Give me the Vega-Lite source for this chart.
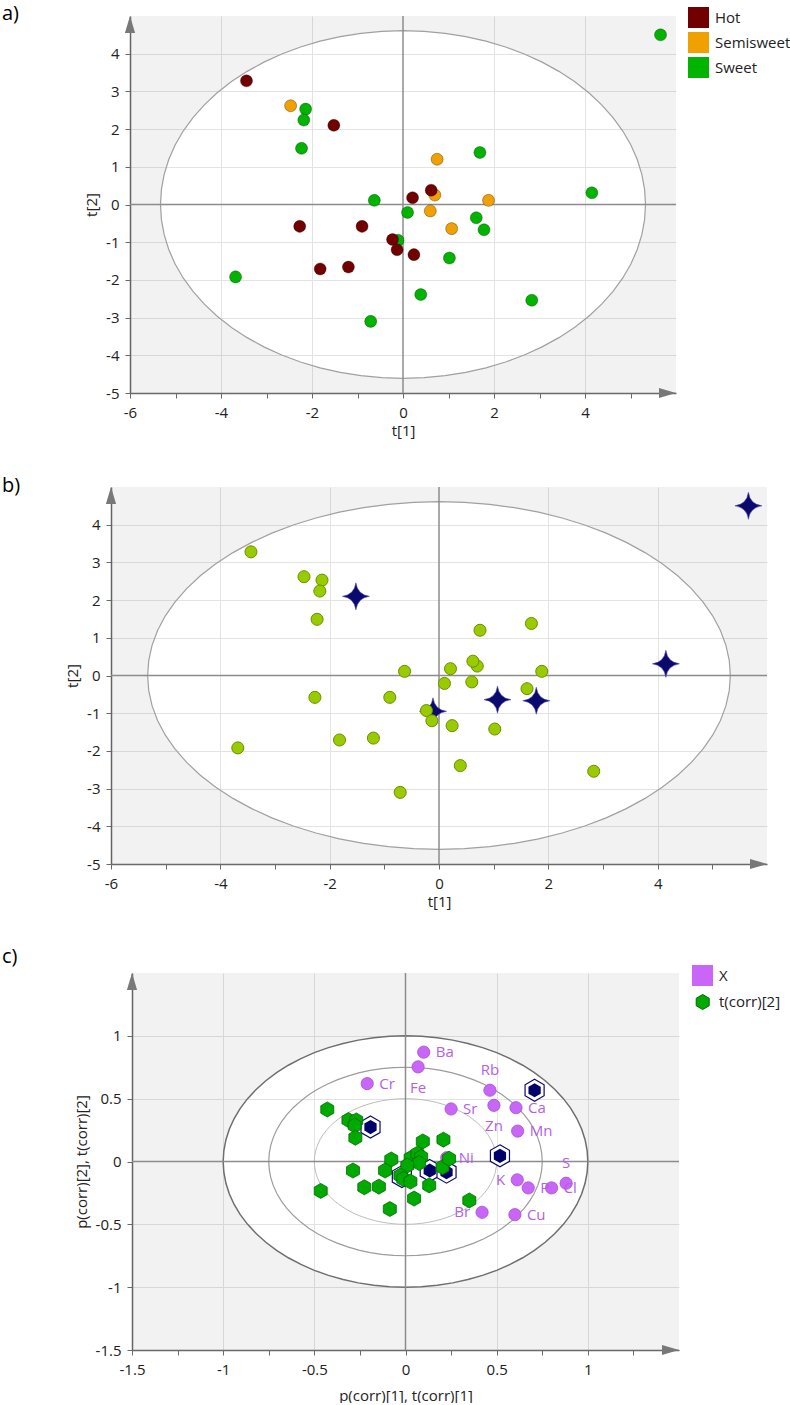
{
  "$schema": "https://vega.github.io/schema/vega-lite/v6.json",
  "padding": {"left": 1, "top": 4, "right": 0, "bottom": 0},
  "spacing": 37,
  "resolve": {"scale": {"color": "independent", "fill": "independent"}, "legend": {"color": "independent", "fill": "independent"}},
  "config": {
    "view": {"stroke": null},
    "font": "Open Sans",
    "axis": {
      "domainColor": "#6a6a6a", "domainWidth": 1.5,
      "tickColor": "#6a6a6a", "tickSize": 5, "tickWidth": 1,
      "labelFont": "Open Sans", "labelFontSize": 15, "labelColor": "#222222",
      "labelOverlap": false, "labelFlush": false, "labelBound": false,
      "titleFont": "Open Sans", "titleFontSize": 15, "titleFontWeight": "normal", "titleColor": "#222222",
      "gridColor": "#e3e3e3", "gridWidth": 1
    },
    "axisX": {"titlePadding": 3, "labelPadding": 7},
    "axisY": {"titlePadding": 6, "labelPadding": 6}
  },
  "datasets": {
    "obs": [
      {"t1":-2.14,"t2":2.53,"type":"Sweet","outlier":"no"},
      {"t1":-2.18,"t2":2.24,"type":"Sweet","outlier":"no"},
      {"t1":-2.23,"t2":1.49,"type":"Sweet","outlier":"no"},
      {"t1":-0.63,"t2":0.11,"type":"Sweet","outlier":"no"},
      {"t1":-0.11,"t2":-0.95,"type":"Sweet","outlier":"yes"},
      {"t1":-3.68,"t2":-1.92,"type":"Sweet","outlier":"no"},
      {"t1":-0.71,"t2":-3.1,"type":"Sweet","outlier":"no"},
      {"t1":5.66,"t2":4.5,"type":"Sweet","outlier":"yes"},
      {"t1":1.69,"t2":1.38,"type":"Sweet","outlier":"no"},
      {"t1":4.15,"t2":0.31,"type":"Sweet","outlier":"yes"},
      {"t1":0.1,"t2":-0.21,"type":"Sweet","outlier":"no"},
      {"t1":1.61,"t2":-0.35,"type":"Sweet","outlier":"no"},
      {"t1":1.78,"t2":-0.67,"type":"Sweet","outlier":"yes"},
      {"t1":1.02,"t2":-1.42,"type":"Sweet","outlier":"no"},
      {"t1":0.39,"t2":-2.39,"type":"Sweet","outlier":"no"},
      {"t1":2.83,"t2":-2.54,"type":"Sweet","outlier":"no"},
      {"t1":-2.47,"t2":2.62,"type":"Semisweet","outlier":"no"},
      {"t1":0.75,"t2":1.2,"type":"Semisweet","outlier":"no"},
      {"t1":0.7,"t2":0.25,"type":"Semisweet","outlier":"no"},
      {"t1":1.88,"t2":0.11,"type":"Semisweet","outlier":"no"},
      {"t1":0.6,"t2":-0.17,"type":"Semisweet","outlier":"no"},
      {"t1":1.07,"t2":-0.64,"type":"Semisweet","outlier":"yes"},
      {"t1":-3.44,"t2":3.28,"type":"Hot","outlier":"no"},
      {"t1":-1.52,"t2":2.1,"type":"Hot","outlier":"yes"},
      {"t1":-2.27,"t2":-0.58,"type":"Hot","outlier":"no"},
      {"t1":-0.9,"t2":-0.58,"type":"Hot","outlier":"no"},
      {"t1":-0.23,"t2":-0.93,"type":"Hot","outlier":"no"},
      {"t1":-0.13,"t2":-1.2,"type":"Hot","outlier":"no"},
      {"t1":-1.82,"t2":-1.71,"type":"Hot","outlier":"no"},
      {"t1":-1.2,"t2":-1.66,"type":"Hot","outlier":"no"},
      {"t1":0.62,"t2":0.38,"type":"Hot","outlier":"no"},
      {"t1":0.21,"t2":0.18,"type":"Hot","outlier":"no"},
      {"t1":0.24,"t2":-1.33,"type":"Hot","outlier":"no"}
    ],
    "ellAB": [
      {"x":-6,"yu":0,"yl":0},
      {"x":-5.33,"yu":0,"yl":0},
      {"x":-5.3097,"yu":0.4018,"yl":-0.4018},
      {"x":-5.249,"yu":0.8005,"yl":-0.8005},
      {"x":-5.1484,"yu":1.1932,"yl":-1.1932},
      {"x":-5.0086,"yu":1.5767,"yl":-1.5767},
      {"x":-4.8306,"yu":1.9483,"yl":-1.9483},
      {"x":-4.6159,"yu":2.305,"yl":-2.305},
      {"x":-4.3661,"yu":2.6442,"yl":-2.6442},
      {"x":-4.083,"yu":2.9633,"yl":-2.9633},
      {"x":-3.7689,"yu":3.2598,"yl":-3.2598},
      {"x":-3.4261,"yu":3.5314,"yl":-3.5314},
      {"x":-3.0572,"yu":3.7763,"yl":-3.7763},
      {"x":-2.665,"yu":3.9924,"yl":-3.9924},
      {"x":-2.2526,"yu":4.1781,"yl":-4.1781},
      {"x":-1.823,"yu":4.332,"yl":-4.332},
      {"x":-1.3795,"yu":4.4529,"yl":-4.4529},
      {"x":-0.9256,"yu":4.54,"yl":-4.54},
      {"x":-0.4646,"yu":4.5924,"yl":-4.5924},
      {"x":0,"yu":4.61,"yl":-4.61},
      {"x":0.4646,"yu":4.5924,"yl":-4.5924},
      {"x":0.9256,"yu":4.54,"yl":-4.54},
      {"x":1.3795,"yu":4.4529,"yl":-4.4529},
      {"x":1.823,"yu":4.332,"yl":-4.332},
      {"x":2.2526,"yu":4.1781,"yl":-4.1781},
      {"x":2.665,"yu":3.9924,"yl":-3.9924},
      {"x":3.0572,"yu":3.7763,"yl":-3.7763},
      {"x":3.4261,"yu":3.5314,"yl":-3.5314},
      {"x":3.7689,"yu":3.2598,"yl":-3.2598},
      {"x":4.083,"yu":2.9633,"yl":-2.9633},
      {"x":4.3661,"yu":2.6442,"yl":-2.6442},
      {"x":4.6159,"yu":2.305,"yl":-2.305},
      {"x":4.8306,"yu":1.9483,"yl":-1.9483},
      {"x":5.0086,"yu":1.5767,"yl":-1.5767},
      {"x":5.1484,"yu":1.1932,"yl":-1.1932},
      {"x":5.249,"yu":0.8005,"yl":-0.8005},
      {"x":5.3097,"yu":0.4018,"yl":-0.4018},
      {"x":5.33,"yu":0,"yl":0},
      {"x":6,"yu":0,"yl":0}
    ],
    "rings": [
      {"r":1,"x":-1.5,"yu":0,"yl":0},
      {"r":1,"x":-1,"yu":0,"yl":0},
      {"r":1,"x":-0.99619,"yu":0.08716,"yl":-0.08716},
      {"r":1,"x":-0.98481,"yu":0.17365,"yl":-0.17365},
      {"r":1,"x":-0.96593,"yu":0.25882,"yl":-0.25882},
      {"r":1,"x":-0.93969,"yu":0.34202,"yl":-0.34202},
      {"r":1,"x":-0.90631,"yu":0.42262,"yl":-0.42262},
      {"r":1,"x":-0.86603,"yu":0.5,"yl":-0.5},
      {"r":1,"x":-0.81915,"yu":0.57358,"yl":-0.57358},
      {"r":1,"x":-0.76604,"yu":0.64279,"yl":-0.64279},
      {"r":1,"x":-0.70711,"yu":0.70711,"yl":-0.70711},
      {"r":1,"x":-0.64279,"yu":0.76604,"yl":-0.76604},
      {"r":1,"x":-0.57358,"yu":0.81915,"yl":-0.81915},
      {"r":1,"x":-0.5,"yu":0.86603,"yl":-0.86603},
      {"r":1,"x":-0.42262,"yu":0.90631,"yl":-0.90631},
      {"r":1,"x":-0.34202,"yu":0.93969,"yl":-0.93969},
      {"r":1,"x":-0.25882,"yu":0.96593,"yl":-0.96593},
      {"r":1,"x":-0.17365,"yu":0.98481,"yl":-0.98481},
      {"r":1,"x":-0.08716,"yu":0.99619,"yl":-0.99619},
      {"r":1,"x":0,"yu":1,"yl":-1},
      {"r":1,"x":0.08716,"yu":0.99619,"yl":-0.99619},
      {"r":1,"x":0.17365,"yu":0.98481,"yl":-0.98481},
      {"r":1,"x":0.25882,"yu":0.96593,"yl":-0.96593},
      {"r":1,"x":0.34202,"yu":0.93969,"yl":-0.93969},
      {"r":1,"x":0.42262,"yu":0.90631,"yl":-0.90631},
      {"r":1,"x":0.5,"yu":0.86603,"yl":-0.86603},
      {"r":1,"x":0.57358,"yu":0.81915,"yl":-0.81915},
      {"r":1,"x":0.64279,"yu":0.76604,"yl":-0.76604},
      {"r":1,"x":0.70711,"yu":0.70711,"yl":-0.70711},
      {"r":1,"x":0.76604,"yu":0.64279,"yl":-0.64279},
      {"r":1,"x":0.81915,"yu":0.57358,"yl":-0.57358},
      {"r":1,"x":0.86603,"yu":0.5,"yl":-0.5},
      {"r":1,"x":0.90631,"yu":0.42262,"yl":-0.42262},
      {"r":1,"x":0.93969,"yu":0.34202,"yl":-0.34202},
      {"r":1,"x":0.96593,"yu":0.25882,"yl":-0.25882},
      {"r":1,"x":0.98481,"yu":0.17365,"yl":-0.17365},
      {"r":1,"x":0.99619,"yu":0.08716,"yl":-0.08716},
      {"r":1,"x":1,"yu":0,"yl":0},
      {"r":1,"x":1.5,"yu":0,"yl":0},
      {"r":0.75,"x":-0.75,"yu":0,"yl":0},
      {"r":0.75,"x":-0.74714,"yu":0.06537,"yl":-0.06537},
      {"r":0.75,"x":-0.73861,"yu":0.13024,"yl":-0.13024},
      {"r":0.75,"x":-0.72445,"yu":0.19412,"yl":-0.19412},
      {"r":0.75,"x":-0.70477,"yu":0.25652,"yl":-0.25652},
      {"r":0.75,"x":-0.67973,"yu":0.31697,"yl":-0.31697},
      {"r":0.75,"x":-0.64952,"yu":0.375,"yl":-0.375},
      {"r":0.75,"x":-0.61436,"yu":0.43019,"yl":-0.43019},
      {"r":0.75,"x":-0.57453,"yu":0.48209,"yl":-0.48209},
      {"r":0.75,"x":-0.53033,"yu":0.53033,"yl":-0.53033},
      {"r":0.75,"x":-0.48209,"yu":0.57453,"yl":-0.57453},
      {"r":0.75,"x":-0.43019,"yu":0.61436,"yl":-0.61436},
      {"r":0.75,"x":-0.375,"yu":0.64952,"yl":-0.64952},
      {"r":0.75,"x":-0.31697,"yu":0.67973,"yl":-0.67973},
      {"r":0.75,"x":-0.25652,"yu":0.70477,"yl":-0.70477},
      {"r":0.75,"x":-0.19412,"yu":0.72445,"yl":-0.72445},
      {"r":0.75,"x":-0.13024,"yu":0.73861,"yl":-0.73861},
      {"r":0.75,"x":-0.06537,"yu":0.74714,"yl":-0.74714},
      {"r":0.75,"x":0,"yu":0.75,"yl":-0.75},
      {"r":0.75,"x":0.06537,"yu":0.74714,"yl":-0.74714},
      {"r":0.75,"x":0.13024,"yu":0.73861,"yl":-0.73861},
      {"r":0.75,"x":0.19412,"yu":0.72445,"yl":-0.72445},
      {"r":0.75,"x":0.25652,"yu":0.70477,"yl":-0.70477},
      {"r":0.75,"x":0.31697,"yu":0.67973,"yl":-0.67973},
      {"r":0.75,"x":0.375,"yu":0.64952,"yl":-0.64952},
      {"r":0.75,"x":0.43019,"yu":0.61436,"yl":-0.61436},
      {"r":0.75,"x":0.48209,"yu":0.57453,"yl":-0.57453},
      {"r":0.75,"x":0.53033,"yu":0.53033,"yl":-0.53033},
      {"r":0.75,"x":0.57453,"yu":0.48209,"yl":-0.48209},
      {"r":0.75,"x":0.61436,"yu":0.43019,"yl":-0.43019},
      {"r":0.75,"x":0.64952,"yu":0.375,"yl":-0.375},
      {"r":0.75,"x":0.67973,"yu":0.31697,"yl":-0.31697},
      {"r":0.75,"x":0.70477,"yu":0.25652,"yl":-0.25652},
      {"r":0.75,"x":0.72445,"yu":0.19412,"yl":-0.19412},
      {"r":0.75,"x":0.73861,"yu":0.13024,"yl":-0.13024},
      {"r":0.75,"x":0.74714,"yu":0.06537,"yl":-0.06537},
      {"r":0.75,"x":0.75,"yu":0,"yl":0},
      {"r":0.5,"x":-0.5,"yu":0,"yl":0},
      {"r":0.5,"x":-0.4981,"yu":0.04358,"yl":-0.04358},
      {"r":0.5,"x":-0.4924,"yu":0.08682,"yl":-0.08682},
      {"r":0.5,"x":-0.48296,"yu":0.12941,"yl":-0.12941},
      {"r":0.5,"x":-0.46985,"yu":0.17101,"yl":-0.17101},
      {"r":0.5,"x":-0.45315,"yu":0.21131,"yl":-0.21131},
      {"r":0.5,"x":-0.43301,"yu":0.25,"yl":-0.25},
      {"r":0.5,"x":-0.40957,"yu":0.28679,"yl":-0.28679},
      {"r":0.5,"x":-0.38302,"yu":0.32139,"yl":-0.32139},
      {"r":0.5,"x":-0.35355,"yu":0.35355,"yl":-0.35355},
      {"r":0.5,"x":-0.32139,"yu":0.38302,"yl":-0.38302},
      {"r":0.5,"x":-0.28679,"yu":0.40957,"yl":-0.40957},
      {"r":0.5,"x":-0.25,"yu":0.43301,"yl":-0.43301},
      {"r":0.5,"x":-0.21131,"yu":0.45315,"yl":-0.45315},
      {"r":0.5,"x":-0.17101,"yu":0.46985,"yl":-0.46985},
      {"r":0.5,"x":-0.12941,"yu":0.48296,"yl":-0.48296},
      {"r":0.5,"x":-0.08682,"yu":0.4924,"yl":-0.4924},
      {"r":0.5,"x":-0.04358,"yu":0.4981,"yl":-0.4981},
      {"r":0.5,"x":0,"yu":0.5,"yl":-0.5},
      {"r":0.5,"x":0.04358,"yu":0.4981,"yl":-0.4981},
      {"r":0.5,"x":0.08682,"yu":0.4924,"yl":-0.4924},
      {"r":0.5,"x":0.12941,"yu":0.48296,"yl":-0.48296},
      {"r":0.5,"x":0.17101,"yu":0.46985,"yl":-0.46985},
      {"r":0.5,"x":0.21131,"yu":0.45315,"yl":-0.45315},
      {"r":0.5,"x":0.25,"yu":0.43301,"yl":-0.43301},
      {"r":0.5,"x":0.28679,"yu":0.40957,"yl":-0.40957},
      {"r":0.5,"x":0.32139,"yu":0.38302,"yl":-0.38302},
      {"r":0.5,"x":0.35355,"yu":0.35355,"yl":-0.35355},
      {"r":0.5,"x":0.38302,"yu":0.32139,"yl":-0.32139},
      {"r":0.5,"x":0.40957,"yu":0.28679,"yl":-0.28679},
      {"r":0.5,"x":0.43301,"yu":0.25,"yl":-0.25},
      {"r":0.5,"x":0.45315,"yu":0.21131,"yl":-0.21131},
      {"r":0.5,"x":0.46985,"yu":0.17101,"yl":-0.17101},
      {"r":0.5,"x":0.48296,"yu":0.12941,"yl":-0.12941},
      {"r":0.5,"x":0.4924,"yu":0.08682,"yl":-0.08682},
      {"r":0.5,"x":0.4981,"yu":0.04358,"yl":-0.04358},
      {"r":0.5,"x":0.5,"yu":0,"yl":0}
    ],
    "vars": [
      {"name":"Ba","p1":0.1,"p2":0.87},
      {"name":"Fe","p1":0.069,"p2":0.753},
      {"name":"Rb","p1":0.463,"p2":0.567},
      {"name":"Zn","p1":0.485,"p2":0.447},
      {"name":"Ca","p1":0.606,"p2":0.428},
      {"name":"Sr","p1":0.25,"p2":0.418},
      {"name":"Mn","p1":0.615,"p2":0.242},
      {"name":"Ni","p1":0.226,"p2":0.03},
      {"name":"K","p1":0.613,"p2":-0.146},
      {"name":"P","p1":0.673,"p2":-0.21},
      {"name":"Cl","p1":0.801,"p2":-0.21},
      {"name":"S","p1":0.881,"p2":-0.173},
      {"name":"Cu","p1":0.6,"p2":-0.423},
      {"name":"Br","p1":0.42,"p2":-0.404},
      {"name":"Cr","p1":-0.21,"p2":0.62}
    ],
    "tcorr": [
      {"t1":-0.192,"t2":0.274,"outlier":"yes"},
      {"t1":-0.02,"t2":-0.12,"outlier":"yes"},
      {"t1":0.133,"t2":-0.072,"outlier":"yes"},
      {"t1":0.225,"t2":-0.085,"outlier":"yes"},
      {"t1":0.518,"t2":0.045,"outlier":"yes"},
      {"t1":0.708,"t2":0.567,"outlier":"yes"},
      {"t1":-0.429,"t2":0.414,"outlier":"no"},
      {"t1":-0.313,"t2":0.33,"outlier":"no"},
      {"t1":-0.27,"t2":0.327,"outlier":"no"},
      {"t1":-0.279,"t2":0.287,"outlier":"no"},
      {"t1":-0.275,"t2":0.189,"outlier":"no"},
      {"t1":0.095,"t2":0.16,"outlier":"no"},
      {"t1":0.208,"t2":0.174,"outlier":"no"},
      {"t1":-0.078,"t2":0.016,"outlier":"no"},
      {"t1":-0.288,"t2":-0.072,"outlier":"no"},
      {"t1":-0.112,"t2":-0.072,"outlier":"no"},
      {"t1":0.028,"t2":0.027,"outlier":"no"},
      {"t1":0.065,"t2":0.062,"outlier":"no"},
      {"t1":0.086,"t2":0.036,"outlier":"no"},
      {"t1":0.075,"t2":-0.012,"outlier":"no"},
      {"t1":0.01,"t2":-0.032,"outlier":"no"},
      {"t1":-0.028,"t2":-0.112,"outlier":"no"},
      {"t1":-0.012,"t2":-0.14,"outlier":"no"},
      {"t1":0.027,"t2":-0.16,"outlier":"no"},
      {"t1":0.203,"t2":-0.045,"outlier":"no"},
      {"t1":0.239,"t2":0.022,"outlier":"no"},
      {"t1":0.13,"t2":-0.19,"outlier":"no"},
      {"t1":-0.226,"t2":-0.205,"outlier":"no"},
      {"t1":-0.146,"t2":-0.2,"outlier":"no"},
      {"t1":-0.465,"t2":-0.234,"outlier":"no"},
      {"t1":0.047,"t2":-0.295,"outlier":"no"},
      {"t1":-0.086,"t2":-0.378,"outlier":"no"},
      {"t1":0.35,"t2":-0.31,"outlier":"no"}
    ]
  },
  "vconcat": [
    {
      "spacing": 0,
      "hconcat": [
        {"width": 1, "height": 1, "data": {"values": [{}]}, "mark": {"type": "point", "size": 0, "opacity": 0}},
        {
          "width": 546, "height": 377,
          "title": {"text": "a)", "anchor": "start", "frame": "group", "dx": -128, "dy": 19, "offset": 0, "baseline": "middle", "fontSize": 20, "fontWeight": "normal", "font": "Open Sans", "color": "#000000"},
          "layer": [
            {"data": {"name": "ellAB"}, "mark": {"type": "area", "color": "#000000", "fillOpacity": 0.05},
             "encoding": {
               "x": {"field": "x", "type": "quantitative", "scale": {"domain": [-6, 6], "nice": false, "zero": false},
                     "axis": {"title": "t[1]", "values": [-6,-5,-4,-3,-2,-1,0,1,2,3,4,5],
                              "labelExpr": "datum.value % 2 === 0 ? '' + datum.value : ''",
                              "gridOpacity": {"condition": {"test": "datum.value % 2 !== 0 || datum.value === 0 || datum.value === -6", "value": 0}, "value": 1}}},
               "y": {"field": "yu", "type": "quantitative", "stack": null, "scale": {"domain": [-5, 5], "nice": false, "zero": false},
                     "axis": {"title": "t[2]", "values": [-5,-4.5,-4,-3.5,-3,-2.5,-2,-1.5,-1,-0.5,0,0.5,1,1.5,2,2.5,3,3.5,4,4.5],
                              "labelExpr": "datum.value % 1 === 0 ? '' + datum.value : ''",
                              "gridOpacity": {"condition": {"test": "datum.value % 1 !== 0 || datum.value === 0 || datum.value === -5", "value": 0}, "value": 1}}},
               "y2": {"datum": 5}}},
            {"data": {"name": "ellAB"}, "mark": {"type": "area", "color": "#000000", "fillOpacity": 0.05},
             "encoding": {"x": {"field": "x", "type": "quantitative"}, "y": {"field": "yl", "type": "quantitative", "stack": null}, "y2": {"datum": -5}}},
            {"data": {"name": "ellAB"}, "transform": [{"filter": "abs(datum.x) < 5.5"}],
             "mark": {"type": "area", "fillOpacity": 0, "stroke": "#a0a0a0", "strokeWidth": 1.2},
             "encoding": {"x": {"field": "x", "type": "quantitative"}, "y": {"field": "yu", "type": "quantitative", "stack": null}, "y2": {"field": "yl"}}},
            {"data": {"values": [{}]}, "mark": {"type": "rule", "color": "#8c8c8c", "strokeWidth": 1.5}, "encoding": {"x": {"datum": 0}}},
            {"data": {"values": [{}]}, "mark": {"type": "rule", "color": "#8c8c8c", "strokeWidth": 1.5}, "encoding": {"y": {"datum": 0}}},
            {"data": {"values": [{}]}, "mark": {"type": "point", "shape": "M-0.6,1L0,-1L0.6,1Z", "size": 289, "filled": true, "color": "#787878", "opacity": 1}, "encoding": {"x": {"datum": -6}, "y": {"datum": 4.775}}},
            {"data": {"values": [{}]}, "mark": {"type": "point", "shape": "M-1,-0.6L1,0L-1,0.6Z", "size": 289, "filled": true, "color": "#787878", "opacity": 1}, "encoding": {"x": {"datum": 5.813}, "y": {"datum": -5}}},
            {"data": {"name": "obs"},
             "mark": {"type": "circle", "size": 145, "opacity": 1, "stroke": "#000000", "strokeOpacity": 0.3, "strokeWidth": 1},
             "encoding": {
               "x": {"field": "t1", "type": "quantitative"},
               "y": {"field": "t2", "type": "quantitative"},
               "color": {"field": "type", "type": "nominal",
                         "scale": {"domain": ["Hot", "Semisweet", "Sweet"], "range": ["#720000", "#f0a000", "#00b400"]},
                         "legend": {"title": null, "orient": "none", "legendX": 687, "legendY": -9, "symbolType": "square", "symbolSize": 441, "symbolStrokeWidth": 0, "symbolOpacity": 1,
                                    "labelFontSize": 15, "labelFont": "Open Sans", "labelColor": "#222222", "labelOffset": 6, "rowPadding": 4, "padding": 0}}}}
          ]
        }
      ]
    },
    {
      "spacing": 0,
      "hconcat": [
        {"width": 1, "height": 1, "data": {"values": [{}]}, "mark": {"type": "point", "size": 0, "opacity": 0}},
        {
          "width": 656, "height": 377,
          "title": {"text": "b)", "anchor": "start", "frame": "group", "dx": -109, "dy": 19.5, "offset": 0, "baseline": "middle", "fontSize": 20, "fontWeight": "normal", "font": "Open Sans", "color": "#000000"},
          "layer": [
            {"data": {"name": "ellAB"}, "mark": {"type": "area", "color": "#000000", "fillOpacity": 0.05},
             "encoding": {
               "x": {"field": "x", "type": "quantitative", "scale": {"domain": [-6, 6], "nice": false, "zero": false},
                     "axis": {"title": "t[1]", "values": [-6,-5,-4,-3,-2,-1,0,1,2,3,4,5],
                              "labelExpr": "datum.value % 2 === 0 ? '' + datum.value : ''",
                              "gridOpacity": {"condition": {"test": "datum.value % 2 !== 0 || datum.value === 0 || datum.value === -6", "value": 0}, "value": 1}}},
               "y": {"field": "yu", "type": "quantitative", "stack": null, "scale": {"domain": [-5, 5], "nice": false, "zero": false},
                     "axis": {"title": "t[2]", "values": [-5,-4.5,-4,-3.5,-3,-2.5,-2,-1.5,-1,-0.5,0,0.5,1,1.5,2,2.5,3,3.5,4,4.5],
                              "labelExpr": "datum.value % 1 === 0 ? '' + datum.value : ''",
                              "gridOpacity": {"condition": {"test": "datum.value % 1 !== 0 || datum.value === 0 || datum.value === -5", "value": 0}, "value": 1}}},
               "y2": {"datum": 5}}},
            {"data": {"name": "ellAB"}, "mark": {"type": "area", "color": "#000000", "fillOpacity": 0.05},
             "encoding": {"x": {"field": "x", "type": "quantitative"}, "y": {"field": "yl", "type": "quantitative", "stack": null}, "y2": {"datum": -5}}},
            {"data": {"name": "ellAB"}, "transform": [{"filter": "abs(datum.x) < 5.5"}],
             "mark": {"type": "area", "fillOpacity": 0, "stroke": "#a0a0a0", "strokeWidth": 1.2},
             "encoding": {"x": {"field": "x", "type": "quantitative"}, "y": {"field": "yu", "type": "quantitative", "stack": null}, "y2": {"field": "yl"}}},
            {"data": {"values": [{}]}, "mark": {"type": "rule", "color": "#8c8c8c", "strokeWidth": 1.5}, "encoding": {"x": {"datum": 0}}},
            {"data": {"values": [{}]}, "mark": {"type": "rule", "color": "#8c8c8c", "strokeWidth": 1.5}, "encoding": {"y": {"datum": 0}}},
            {"data": {"values": [{}]}, "mark": {"type": "point", "shape": "M-0.6,1L0,-1L0.6,1Z", "size": 289, "filled": true, "color": "#787878", "opacity": 1}, "encoding": {"x": {"datum": -6}, "y": {"datum": 4.775}}},
            {"data": {"values": [{}]}, "mark": {"type": "point", "shape": "M-1,-0.6L1,0L-1,0.6Z", "size": 289, "filled": true, "color": "#787878", "opacity": 1}, "encoding": {"x": {"datum": 5.845}, "y": {"datum": -5}}},
            {"data": {"name": "obs"}, "transform": [{"filter": {"field": "outlier", "equal": "yes"}}],
             "mark": {"type": "point", "shape": "M0,-1Q0.12,-0.12,1,0Q0.12,0.12,0,1Q-0.12,0.12,-1,0Q-0.12,-0.12,0,-1Z", "size": 729, "filled": true, "fill": "#0a0a6e", "stroke": "#4a4aa8", "strokeWidth": 0.6, "opacity": 1},
             "encoding": {"x": {"field": "t1", "type": "quantitative"}, "y": {"field": "t2", "type": "quantitative"}}},
            {"data": {"name": "obs"}, "transform": [{"filter": {"not": {"field": "outlier", "equal": "yes"}}}],
             "mark": {"type": "circle", "size": 145, "opacity": 1, "fill": "#99cc00", "stroke": "#6a8f00", "strokeWidth": 1},
             "encoding": {"x": {"field": "t1", "type": "quantitative"}, "y": {"field": "t2", "type": "quantitative"}}}
          ]
        }
      ]
    },
    {
      "spacing": 0,
      "hconcat": [
        {"width": 1, "height": 1, "data": {"values": [{}]}, "mark": {"type": "point", "size": 0, "opacity": 0}},
        {
          "width": 547, "height": 377,
          "title": {"text": "c)", "anchor": "start", "frame": "group", "dx": -130, "dy": 4.7, "offset": 0, "baseline": "middle", "fontSize": 20, "fontWeight": "normal", "font": "Open Sans", "color": "#000000"},
          "layer": [
            {"data": {"name": "rings"}, "transform": [{"filter": {"field": "r", "equal": 1}}],
             "mark": {"type": "area", "color": "#000000", "fillOpacity": 0.05},
             "encoding": {
               "x": {"field": "x", "type": "quantitative", "scale": {"domain": [-1.5, 1.5], "nice": false, "zero": false},
                     "axis": {"title": "p(corr)[1], t(corr)[1]", "titlePadding": 11, "values": [-1.5,-1.25,-1,-0.75,-0.5,-0.25,0,0.25,0.5,0.75,1,1.25],
                              "labelExpr": "datum.value % 0.5 === 0 ? '' + datum.value : ''",
                              "gridOpacity": {"condition": {"test": "datum.value % 0.5 !== 0 || datum.value === 0 || datum.value === -1.5", "value": 0}, "value": 1}}},
               "y": {"field": "yu", "type": "quantitative", "stack": null, "scale": {"domain": [-1.5, 1.5], "nice": false, "zero": false},
                     "axis": {"title": "p(corr)[2], t(corr)[2]", "values": [-1.5,-1.25,-1,-0.75,-0.5,-0.25,0,0.25,0.5,0.75,1,1.25],
                              "labelExpr": "datum.value % 0.5 === 0 ? '' + datum.value : ''",
                              "gridOpacity": {"condition": {"test": "datum.value % 0.5 !== 0 || datum.value === 0 || datum.value === -1.5", "value": 0}, "value": 1}}},
               "y2": {"datum": 1.5}}},
            {"data": {"name": "rings"}, "transform": [{"filter": {"field": "r", "equal": 1}}],
             "mark": {"type": "area", "color": "#000000", "fillOpacity": 0.05},
             "encoding": {"x": {"field": "x", "type": "quantitative"}, "y": {"field": "yl", "type": "quantitative", "stack": null}, "y2": {"datum": -1.5}}},
            {"data": {"name": "rings"}, "transform": [{"filter": "datum.r === 1 && abs(datum.x) <= 1"}],
             "mark": {"type": "area", "fillOpacity": 0, "stroke": "#6e6e6e", "strokeWidth": 1.5},
             "encoding": {"x": {"field": "x", "type": "quantitative"}, "y": {"field": "yu", "type": "quantitative", "stack": null}, "y2": {"field": "yl"}}},
            {"data": {"name": "rings"}, "transform": [{"filter": {"field": "r", "equal": 0.75}}],
             "mark": {"type": "area", "fillOpacity": 0, "stroke": "#9c9c9c", "strokeWidth": 1.2},
             "encoding": {"x": {"field": "x", "type": "quantitative"}, "y": {"field": "yu", "type": "quantitative", "stack": null}, "y2": {"field": "yl"}}},
            {"data": {"name": "rings"}, "transform": [{"filter": {"field": "r", "equal": 0.5}}],
             "mark": {"type": "area", "fillOpacity": 0, "stroke": "#bdbdbd", "strokeWidth": 1},
             "encoding": {"x": {"field": "x", "type": "quantitative"}, "y": {"field": "yu", "type": "quantitative", "stack": null}, "y2": {"field": "yl"}}},
            {"data": {"values": [{}]}, "mark": {"type": "rule", "color": "#8c8c8c", "strokeWidth": 1.5}, "encoding": {"x": {"datum": 0}}},
            {"data": {"values": [{}]}, "mark": {"type": "rule", "color": "#8c8c8c", "strokeWidth": 1.5}, "encoding": {"y": {"datum": 0}}},
            {"data": {"values": [{}]}, "mark": {"type": "point", "shape": "M-0.6,1L0,-1L0.6,1Z", "size": 289, "filled": true, "color": "#787878", "opacity": 1}, "encoding": {"x": {"datum": -1.5}, "y": {"datum": 1.432}}},
            {"data": {"values": [{}]}, "mark": {"type": "point", "shape": "M-1,-0.6L1,0L-1,0.6Z", "size": 289, "filled": true, "color": "#787878", "opacity": 1}, "encoding": {"x": {"datum": 1.4535}, "y": {"datum": -1.5}}},
            {"data": {"name": "vars"},
             "mark": {"type": "circle", "size": 150, "opacity": 1, "stroke": "#a54fd8", "strokeWidth": 0.8},
             "encoding": {
               "x": {"field": "p1", "type": "quantitative"},
               "y": {"field": "p2", "type": "quantitative"},
               "color": {"datum": "X", "type": "nominal",
                         "scale": {"domain": ["X"], "range": ["#c966f7"]},
                         "legend": {"title": null, "orient": "none", "legendX": 691, "legendY": -8, "symbolType": "square", "symbolSize": 441, "symbolOpacity": 1, "symbolStrokeWidth": 0,
                                    "labelFontSize": 15, "labelFont": "Open Sans", "labelColor": "#222222", "labelOffset": 6, "padding": 0}}}},
            {"data": {"name": "vars"}, "transform": [{"filter": {"field": "name", "oneOf": ["Ba","Sr","Ca","Mn","Cu","P","Cl","Ni","Cr"]}}],
             "mark": {"type": "text", "align": "left", "baseline": "middle", "dx": 12, "fontSize": 15, "font": "Open Sans", "color": "#b35fe6"},
             "encoding": {"x": {"field": "p1", "type": "quantitative"}, "y": {"field": "p2", "type": "quantitative"}, "text": {"field": "name"}}},
            {"data": {"name": "vars"}, "transform": [{"filter": {"field": "name", "oneOf": ["Rb","S"]}}],
             "mark": {"type": "text", "align": "center", "baseline": "middle", "dy": -20, "fontSize": 15, "font": "Open Sans", "color": "#b35fe6"},
             "encoding": {"x": {"field": "p1", "type": "quantitative"}, "y": {"field": "p2", "type": "quantitative"}, "text": {"field": "name"}}},
            {"data": {"name": "vars"}, "transform": [{"filter": {"field": "name", "oneOf": ["Fe","Zn"]}}],
             "mark": {"type": "text", "align": "center", "baseline": "middle", "dy": 21, "fontSize": 15, "font": "Open Sans", "color": "#b35fe6"},
             "encoding": {"x": {"field": "p1", "type": "quantitative"}, "y": {"field": "p2", "type": "quantitative"}, "text": {"field": "name"}}},
            {"data": {"name": "vars"}, "transform": [{"filter": {"field": "name", "oneOf": ["K","Br"]}}],
             "mark": {"type": "text", "align": "right", "baseline": "middle", "dx": -12, "fontSize": 15, "font": "Open Sans", "color": "#b35fe6"},
             "encoding": {"x": {"field": "p1", "type": "quantitative"}, "y": {"field": "p2", "type": "quantitative"}, "text": {"field": "name"}}},
            {"data": {"name": "tcorr"}, "transform": [{"filter": {"field": "outlier", "equal": "yes"}}],
             "mark": {"type": "point", "shape": "M0,-1L0.866,-0.5L0.866,0.5L0,1L-0.866,0.5L-0.866,-0.5Z", "size": 484, "filled": true, "fill": "#ffffff", "stroke": "#0a0a6e", "strokeWidth": 1.2, "opacity": 1},
             "encoding": {"x": {"field": "t1", "type": "quantitative"}, "y": {"field": "t2", "type": "quantitative"}}},
            {"data": {"name": "tcorr"}, "transform": [{"filter": {"field": "outlier", "equal": "yes"}}],
             "mark": {"type": "point", "shape": "M0,-1L0.866,-0.5L0.866,0.5L0,1L-0.866,0.5L-0.866,-0.5Z", "size": 200, "filled": true, "fill": "#00006a", "opacity": 1},
             "encoding": {"x": {"field": "t1", "type": "quantitative"}, "y": {"field": "t2", "type": "quantitative"}}},
            {"data": {"name": "tcorr"}, "transform": [{"filter": {"field": "outlier", "equal": "no"}}],
             "mark": {"type": "point", "shape": "M0,-1L0.866,-0.5L0.866,0.5L0,1L-0.866,0.5L-0.866,-0.5Z", "size": 225, "filled": true, "opacity": 1, "stroke": "#006b00", "strokeWidth": 0.8},
             "encoding": {"x": {"field": "t1", "type": "quantitative"}, "y": {"field": "t2", "type": "quantitative"},
                          "fill": {"datum": "t(corr)[2]", "type": "nominal",
                                   "scale": {"domain": ["t(corr)[2]"], "range": ["#00aa00"]},
                                   "legend": {"title": null, "orient": "none", "legendX": 693.7, "legendY": 21, "symbolType": "M0,-1L0.866,-0.5L0.866,0.5L0,1L-0.866,0.5L-0.866,-0.5Z", "symbolSize": 225, "symbolOpacity": 1, "symbolStrokeColor": "#006b00", "symbolStrokeWidth": 1,
                                              "labelFontSize": 15, "labelFont": "Open Sans", "labelColor": "#222222", "labelOffset": 8.3, "padding": 0}}}}
          ]
        }
      ]
    }
  ]
}
